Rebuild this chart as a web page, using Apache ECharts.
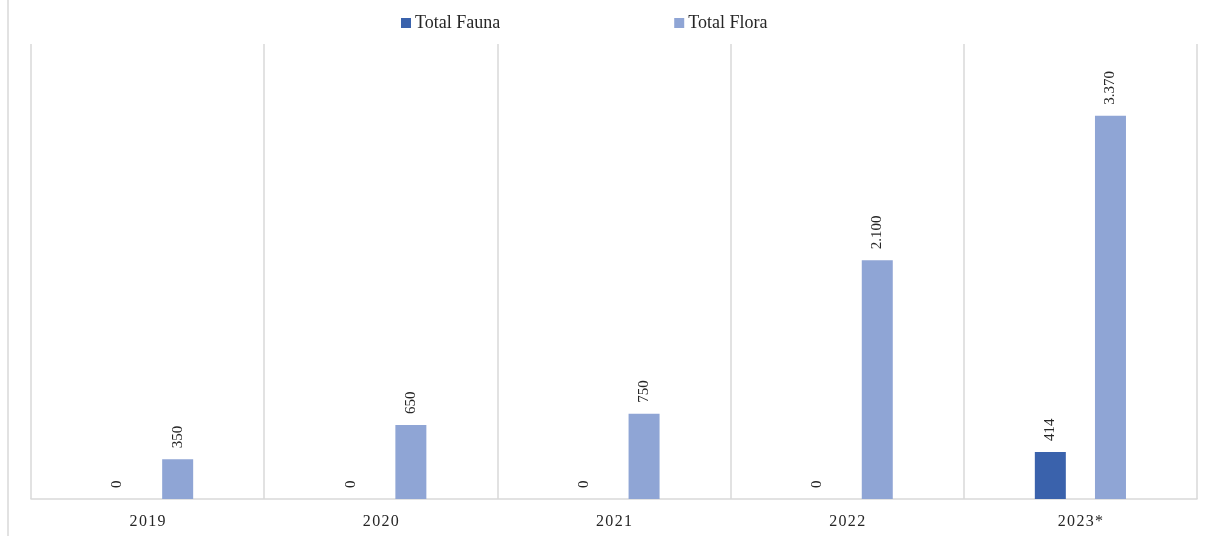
<!DOCTYPE html>
<html><head><meta charset="utf-8">
<script src="https://cdn.jsdelivr.net/npm/echarts@6/dist/echarts.min.js"></script>
<style>html,body{margin:0;padding:0;background:#fff}#c{width:1210px;height:536px}</style>
</head><body><div id="c"></div>
<script>
const categories = ['2019', '2020', '2021', '2022', '2023*'];
const faunaValues = [0, 0, 0, 0, 414];
const floraValues = [350, 650, 750, 2100, 3370];
const seriesNames = ['Total Fauna', 'Total Flora'];

const fmt = v => String(v).replace(/\B(?=(\d{3})+(?!\d))/g, '.');
const spaced = (s, sp) => s.split('').join(sp);
const font = '"Liberation Serif", "Times New Roman", serif';
const labelCfg = {
  show: true, position: 'top', rotate: 90, distance: 11,
  align: 'left', verticalAlign: 'middle',
  fontFamily: font, fontSize: 15, color: '#262626',
  formatter: p => fmt(p.value)
};
const chart = echarts.init(document.getElementById('c'));
chart.setOption({
  animation: false,
  backgroundColor: '#fff',
  legend: {
    top: 14, left: 401, padding: 0, itemWidth: 10, itemHeight: 10, itemGap: 174,
    icon: 'rect',
    textStyle: { fontFamily: font, fontSize: 18, color: '#262626', padding: [0, 0, 0, -1] },
    data: seriesNames
  },
  grid: { left: 31, right: 13, top: 44, bottom: 37 },
  xAxis: {
    type: 'category', data: categories, boundaryGap: true,
    axisLine: { lineStyle: { color: '#d9d9d9', width: 1.5 } },
    axisTick: { show: false },
    splitLine: { show: true, lineStyle: { color: '#d9d9d9', width: 1.5 } },
    axisLabel: { fontFamily: font, fontSize: 16, color: '#262626', margin: 15,
      formatter: v => spaced(v, '\u200A') }
  },
  yAxis: { type: 'value', min: 0, max: 4000, show: false, splitLine: { show: false } },
  graphic: [{ type: 'line', shape: { x1: 8, y1: 0, x2: 8, y2: 536 },
    style: { stroke: '#d9d9d9', lineWidth: 1.5 } }],
  series: [
    { name: seriesNames[0], type: 'bar', data: faunaValues, barWidth: 31, barGap: '94%',
      itemStyle: { color: '#3a62ac' }, label: labelCfg },
    { name: seriesNames[1], type: 'bar', data: floraValues, barWidth: 31,
      itemStyle: { color: '#8fa5d5' }, label: labelCfg }
  ]
});
</script></body></html>
